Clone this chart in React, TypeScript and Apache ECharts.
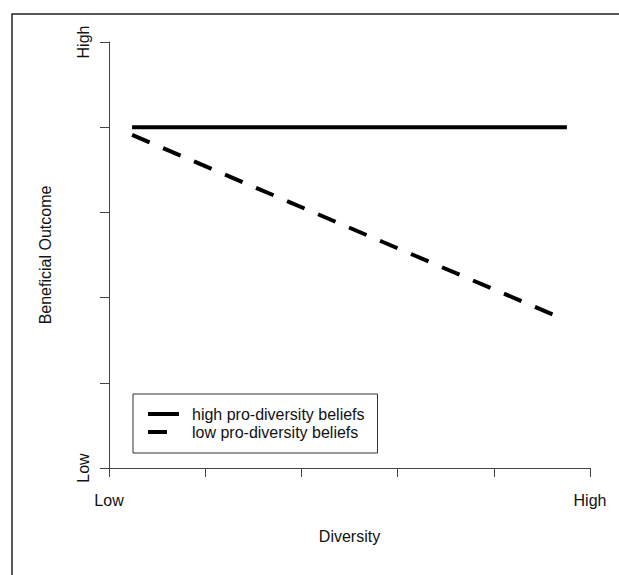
import React, { useEffect, useRef } from "react";
import * as echarts from "echarts";

const axisMin = 0;
const axisMax = 5;
const axisInterval = 1;
const lowLabel = "Low";
const highLabel = "High";
const xTitle = "Diversity";
const yTitle = "Beneficial Outcome";
const seriesNames = ["high pro-diversity beliefs", "low pro-diversity beliefs"];
const highX = [0.24, 4.76];
const highY = [4.0, 4.0];
const lowX = [0.24, 4.74];
const lowY = [3.91, 1.74];

const FONT = "'Liberation Sans', Arial, sans-serif";
const TXT = "#111";
const FS = 16;

function tickLabel(v: number) {
  if (v === axisMin) return lowLabel;
  if (v === axisMax) return highLabel;
  return "";
}

export default function App() {
  const ref = useRef<HTMLDivElement>(null);
  useEffect(() => {
    if (!ref.current) return;
    const chart = echarts.init(ref.current, undefined, { renderer: "svg" });
    const axisCommon = {
      type: "value",
      min: axisMin,
      max: axisMax,
      interval: axisInterval,
      splitLine: { show: false },
      axisLine: { show: true, lineStyle: { color: "#444", width: 1 } },
      axisTick: { show: true, length: 9, inside: false, lineStyle: { color: "#444", width: 1 } },
      nameLocation: "middle",
      nameTextStyle: { fontFamily: FONT, fontSize: FS, color: TXT, lineHeight: FS },
    };
    chart.setOption({
      animation: false,
      backgroundColor: "#fff",
      grid: { left: 109, top: 42, right: 29, bottom: 107, containLabel: false, outerBoundsMode: "none" },
      xAxis: {
        ...axisCommon,
        name: xTitle,
        nameGap: 60,
        axisLabel: {
          formatter: tickLabel,
          margin: 24,
          fontFamily: FONT,
          fontSize: FS,
          lineHeight: FS,
          color: TXT,
          showMinLabel: true,
          showMaxLabel: true,
          hideOverlap: false,
        },
      },
      yAxis: {
        ...axisCommon,
        name: yTitle,
        nameGap: 56,
        axisLabel: {
          formatter: tickLabel,
          rotate: 90,
          margin: 18,
          fontFamily: FONT,
          fontSize: FS,
          lineHeight: FS,
          color: TXT,
          showMinLabel: true,
          showMaxLabel: true,
          hideOverlap: false,
        },
      },
      legend: {
        show: true,
        orient: "vertical",
        left: 133,
        top: 394,
        padding: [12, 13, 13, 13],
        itemGap: 2,
        itemWidth: 31,
        itemHeight: 14,
        borderColor: "#333",
        borderWidth: 1,
        data: seriesNames,
        lineStyle: { width: 4 },
        itemStyle: { opacity: 0 },
        textStyle: { fontFamily: FONT, fontSize: FS, color: TXT, padding: [0, 0, 0, 8] },
      },
      series: [
        {
          name: seriesNames[0],
          type: "line",
          data: highX.map((x, i) => [x, highY[i]]),
          symbol: "none",
          lineStyle: { color: "#000", width: 4, type: "solid", cap: "butt" },
          itemStyle: { color: "#000" },
        },
        {
          name: seriesNames[1],
          type: "line",
          data: lowX.map((x, i) => [x, lowY[i]]),
          symbol: "none",
          lineStyle: { color: "#000", width: 4, type: [19, 14.7], cap: "butt" },
          itemStyle: { color: "#000" },
        },
      ],
      graphic: [
        {
          type: "rect",
          shape: { x: 12, y: 14, width: 640, height: 620 },
          style: { fill: "none", stroke: "#222", lineWidth: 1.5 },
          silent: true,
        },
      ],
    });
    return () => chart.dispose();
  }, []);
  return (
    <div
      ref={ref}
      style={{ position: "fixed", left: 0, top: 0, width: 619, height: 575, background: "#fff" }}
    />
  );
}
